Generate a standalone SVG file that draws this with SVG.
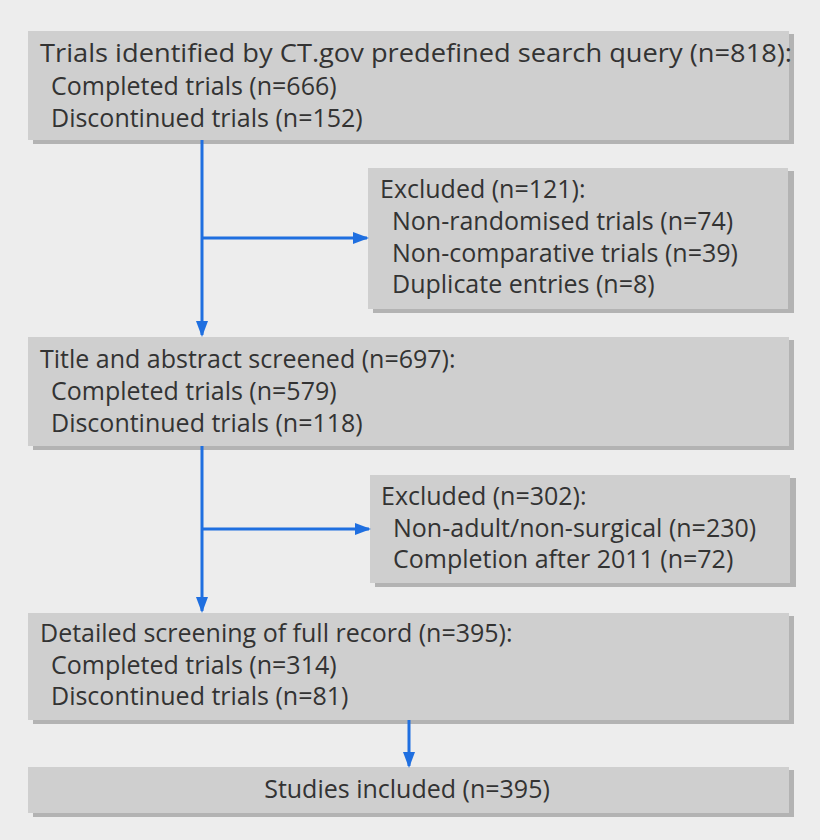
<svg xmlns="http://www.w3.org/2000/svg" width="820" height="840" viewBox="0 0 820 840">
<defs>
<style>
.bx{fill:#cfcfcf}
.sh{fill:#b3b3b3}
text{font-family:"Open Sans","Liberation Sans",sans-serif;font-size:25px;fill:#333}
.ln{stroke:#1f6fe0;stroke-width:3;fill:none}
</style>
<marker id="av" markerWidth="16" markerHeight="14" refX="14" refY="7" orient="auto" markerUnits="userSpaceOnUse" viewBox="0 0 16 14"><path d="M0,1L16,7L0,13z" fill="#1f6fe0"/></marker>
</defs>
<rect width="820" height="840" fill="#ededed"/>
<g id="n1"><rect class="sh" x="33" y="34" width="761" height="110"/><rect class="bx" x="28" y="31" width="761" height="109"/>
<text x="40" y="62" textLength="752" lengthAdjust="spacingAndGlyphs">Trials identified by CT.gov predefined search query (n=818):</text>
<text x="51" y="95">Completed trials (n=666)</text>
<text x="51" y="127">Discontinued trials (n=152)</text></g>
<g id="n2"><rect class="sh" x="373" y="171" width="421" height="142"/><rect class="bx" x="368" y="168" width="420" height="141"/>
<text x="380" y="198">Excluded (n=121):</text>
<text x="392" y="230">Non-randomised trials (n=74)</text>
<text x="392" y="262">Non-comparative trials (n=39)</text>
<text x="392" y="293">Duplicate entries (n=8)</text>
</g>
<g id="n3"><rect class="sh" x="33" y="340" width="761" height="110"/><rect class="bx" x="28" y="337" width="761" height="109"/>
<text x="40" y="368">Title and abstract screened (n=697):</text>
<text x="51" y="400">Completed trials (n=579)</text>
<text x="51" y="432">Discontinued trials (n=118)</text></g>
<g id="n4"><rect class="sh" x="375" y="478" width="421" height="109"/><rect class="bx" x="370" y="475" width="420" height="108"/>
<text x="381" y="505">Excluded (n=302):</text>
<text x="393" y="537">Non-adult/non-surgical (n=230)</text>
<text x="393" y="568">Completion after 2011 (n=72)</text></g>
<g id="n5"><rect class="sh" x="33" y="616" width="761" height="108"/><rect class="bx" x="28" y="613" width="761" height="107"/>
<text x="40" y="642">Detailed screening of full record (n=395):</text>
<text x="51" y="674">Completed trials (n=314)</text>
<text x="51" y="705">Discontinued trials (n=81)</text></g>
<g id="n6"><rect class="sh" x="33" y="770" width="761" height="47"/><rect class="bx" x="28" y="767" width="761" height="46"/>
<text x="407" y="798" text-anchor="middle">Studies included (n=395)</text></g>
<g id="connectors">
<path class="ln" d="M202,140V335" marker-end="url(#av)"/>
<path class="ln" d="M202,238H367" marker-end="url(#av)"/>
<path class="ln" d="M202,446V611" marker-end="url(#av)"/>
<path class="ln" d="M202,529H369" marker-end="url(#av)"/>
<path class="ln" d="M409,720V766" marker-end="url(#av)"/>
</g>
</svg>
